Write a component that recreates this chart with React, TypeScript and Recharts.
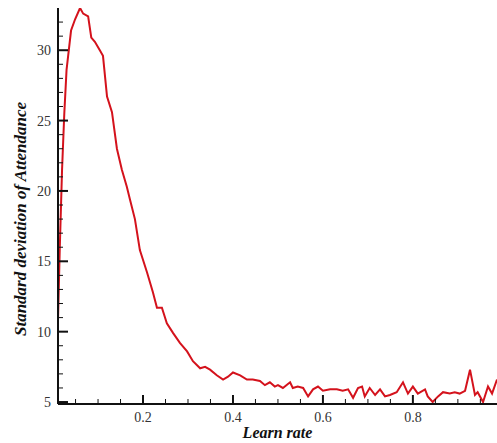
import { LineChart, Line, XAxis, YAxis } from "recharts";

// learn rate (x) and standard deviation of attendance (y)
const learnRate = [
  0.011, 0.015, 0.02, 0.025, 0.03, 0.04, 0.049, 0.06, 0.067, 0.078, 0.085, 0.093, 0.104, 0.111,
  0.12, 0.131, 0.142, 0.153, 0.164, 0.171, 0.182, 0.193, 0.209, 0.222, 0.231, 0.242, 0.253,
  0.267, 0.282, 0.298, 0.311, 0.327, 0.338, 0.349, 0.364, 0.378, 0.389, 0.4, 0.416, 0.431,
  0.444, 0.46, 0.471, 0.482, 0.493, 0.5, 0.511, 0.527, 0.533, 0.544, 0.556, 0.567, 0.578,
  0.589, 0.6, 0.616, 0.631, 0.644, 0.656, 0.667, 0.678, 0.687, 0.693, 0.704, 0.716, 0.727,
  0.738, 0.749, 0.764, 0.778, 0.789, 0.8, 0.811, 0.827, 0.833, 0.844, 0.856, 0.867, 0.882,
  0.893, 0.904, 0.916, 0.927, 0.938, 0.944, 0.956, 0.967, 0.976, 0.987,
];
const stdDev = [
  10.8, 16, 21.5, 25.5, 28.6, 31.4, 32.2, 33.0, 32.6, 32.4, 30.9, 30.6, 30.0, 29.6,
  26.7, 25.6, 23.0, 21.5, 20.3, 19.4, 18.0, 15.8, 14.2, 12.8, 11.7, 11.7, 10.6,
  9.9, 9.2, 8.6, 7.9, 7.4, 7.5, 7.3, 6.9, 6.6, 6.8, 7.1, 6.9, 6.6,
  6.6, 6.5, 6.2, 6.4, 6.1, 6.2, 6.0, 6.4, 6.0, 6.1, 6.0, 5.4, 5.9,
  6.1, 5.8, 5.9, 5.9, 5.8, 5.9, 5.3, 6.0, 6.1, 5.4, 6.0, 5.5, 5.9,
  5.4, 5.5, 5.7, 6.4, 5.6, 6.1, 5.6, 5.9, 5.4, 5.0, 5.4, 5.7, 5.6,
  5.7, 5.6, 5.8, 7.3, 5.5, 5.7, 5.0, 6.1, 5.6, 6.6,
];

const xTicks = [0.05, 0.1, 0.15, 0.2, 0.25, 0.3, 0.35, 0.4, 0.45, 0.5, 0.55, 0.6, 0.65, 0.7, 0.75, 0.8, 0.85, 0.9, 0.95];
const xMajor = [0.2, 0.4, 0.6, 0.8];
const yTicks = [5, 6, 7, 8, 9, 10, 11, 12, 13, 14, 15, 16, 17, 18, 19, 20, 21, 22, 23, 24, 25, 26, 27, 28, 29, 30, 31, 32];
const yMajor = [5, 10, 15, 20, 25, 30];

const data = learnRate.map((x, i) => ({ x, y: stdDev[i] }));

const FONT = '"Liberation Serif", "DejaVu Serif", serif';

function XTick({ x, y, payload }: any) {
  const major = xMajor.some((m) => Math.abs(m - payload.value) < 1e-6);
  return (
    <g>
      <line x1={x} x2={x} y1={y} y2={y - (major ? 9 : 5)} stroke="#111" strokeWidth={major ? 2 : 1} />
      {major && (
        <text x={x} y={y + 18} textAnchor="middle" fontFamily={FONT} fontSize={14} fill="#333">
          {payload.value}
        </text>
      )}
    </g>
  );
}

function YTick({ x, y, payload }: any) {
  const major = yMajor.includes(payload.value);
  return (
    <g>
      <line x1={x} x2={x + (major ? 10 : 5)} y1={y} y2={y} stroke="#111" strokeWidth={major ? 2 : 1} />
      {major && (
        <text x={x - 7} y={y + 5} textAnchor="end" fontFamily={FONT} fontSize={14} fill="#333">
          {payload.value}
        </text>
      )}
    </g>
  );
}

function YTitle({ viewBox }: any) {
  const cx = 20;
  const cy = viewBox.y + viewBox.height / 2 + 13;
  return (
    <text
      x={cx}
      y={cy}
      transform={`rotate(-90 ${cx} ${cy})`}
      textAnchor="middle"
      dominantBaseline="central"
      fontFamily={FONT}
      fontSize={17}
      fontWeight="bold"
      fontStyle="italic"
      fill="#111"
    >
      Standard deviation of Attendance
    </text>
  );
}

function XTitle({ viewBox }: any) {
  const cx = viewBox.x + viewBox.width / 2;
  return (
    <text
      x={cx}
      y={438}
      textAnchor="middle"
      fontFamily={FONT}
      fontSize={16}
      fontWeight="bold"
      fontStyle="italic"
      fill="#111"
    >
      Learn rate
    </text>
  );
}

export default function App() {
  return (
    <div style={{ position: "absolute", left: 0, top: 0, width: 497, height: 443, background: "#fff" }}>
      <LineChart width={497} height={443} data={data} margin={{ top: 8, right: 0, bottom: 0, left: 0 }}>
        <XAxis
          dataKey="x"
          type="number"
          domain={[0.011, 0.987]}
          ticks={xTicks}
          interval={0}
          height={39}
          tickSize={0}
          tickMargin={0}
          tickLine={false}
          axisLine={{ stroke: "#111", strokeWidth: 2 }}
          tick={<XTick />}
          label={{ content: <XTitle /> }}
          allowDataOverflow
        />
        <YAxis
          type="number"
          domain={[4.86, 33]}
          ticks={yTicks}
          interval={0}
          width={58}
          tickSize={0}
          tickMargin={0}
          tickLine={false}
          axisLine={{ stroke: "#111", strokeWidth: 2 }}
          tick={<YTick />}
          label={{ content: <YTitle /> }}
          allowDataOverflow
        />
        <Line
          dataKey="y"
          type="linear"
          stroke="#d4121c"
          strokeWidth={2}
          dot={false}
          isAnimationActive={false}
        />
      </LineChart>
    </div>
  );
}
